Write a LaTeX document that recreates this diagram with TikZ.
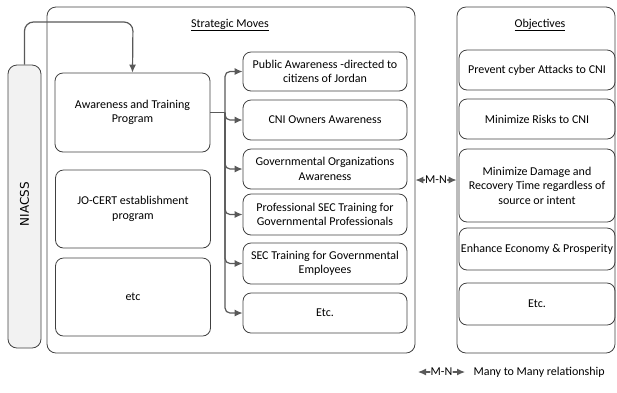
\documentclass[tikz,border=0pt]{standalone}
\usepackage{fontspec}
\setmainfont{Carlito}
\newfontfamily\niafont{DejaVu Sans}
\usetikzlibrary{arrows.meta}

\tikzstyle{frame} = [draw=black!75, rectangle, rounded corners=9pt, line width=0.8pt]
\tikzstyle{block} = [align=center, draw=black!75, rectangle, rounded corners=8pt, line width=0.8pt, inner sep=1pt, font=\fontsize{12}{14.5}\selectfont]
\tikzstyle{link} = [draw=black!65, line width=1.2pt, rounded corners=5pt]

\begin{document}
\begin{tikzpicture}[auto,>={Latex[length=8pt,width=7pt]},x=1pt,y=-1pt]
            \useasboundingbox (0,0) rectangle (617,392);
            %
            % We start by placing the two frames and the NIACSS bar
            \node [frame, minimum width=368pt, minimum height=346pt] (strategic) at (231,180) {};
            \node [frame, minimum width=158pt, minimum height=346pt] (objectives) at (536,180) {};
            \node [frame, fill=black!5, minimum width=33pt, minimum height=283pt] (niacss) at (24.5,206.5) {};
            \node [rotate=90, font=\niafont\fontsize{12}{14}\selectfont] (niacsslabel) at (24.5,204) {NIACSS};
            \node [font=\fontsize{12}{14}\selectfont] (strategictitle) at (230,25) {\underline{Strategic Moves}};
            \node [font=\fontsize{12}{14}\selectfont] (objectivestitle) at (540,25) {\underline{Objectives}};
            %
            % Left column of strategic moves
            \node [block, minimum width=155pt, minimum height=79pt] (awareness) at (132.5,112.5) {Awareness and Training\\Program};
            \node [block, minimum width=155pt, minimum height=78pt] (jocert) at (133,209) {JO-CERT establishment\\program};
            \node [block, minimum width=155pt, minimum height=78pt] (etcmove) at (133,297) {etc};
            %
            % Right column of strategic moves
            \node [block, minimum width=164pt, minimum height=39pt] (public) at (325,71.5) {Public Awareness -directed to\\citizens of Jordan};
            \node [block, minimum width=164pt, minimum height=40pt] (owners) at (325,120) {CNI Owners Awareness};
            \node [block, minimum width=164pt, minimum height=40pt] (govorg) at (325,169) {Governmental Organizations\\Awareness};
            \node [block, minimum width=164pt, minimum height=41pt] (profsec) at (325,214.5) {Professional SEC Training for\\Governmental Professionals};
            \node [block, minimum width=164pt, minimum height=41pt] (empsec) at (325,263.5) {SEC Training for Governmental\\Employees};
            \node [block, minimum width=164pt, minimum height=40pt] (etcaware) at (325,313) {Etc.};
            %
            % Objectives
            \node [block, minimum width=156pt, minimum height=40pt] (prevent) at (537,70) {Prevent cyber Attacks to CNI};
            \node [block, minimum width=156pt, minimum height=40pt] (risks) at (537,119) {Minimize Risks to CNI};
            \node [block, minimum width=156pt, minimum height=73pt] (damage) at (537,185.5) {Minimize Damage and\\Recovery Time regardless of\\source or intent};
            \node [block, minimum width=156pt, minimum height=42pt] (economy) at (537,249) {Enhance Economy \& Prosperity};
            \node [block, minimum width=156pt, minimum height=42pt] (etcobj) at (537,304) {Etc.};
            %
            % Once the nodes are placed, connecting them is easy.
            \coordinate (fork) at (225,112.5);
            \draw [link, ->, rounded corners=9pt] (niacss.north) |- (133,22) -- (awareness.north);
            \draw [link] (awareness.east) -- (fork);
            \foreach \target in {public,owners,govorg,profsec,empsec,etcaware}
              \draw [link, ->] (fork) |- (\target.west);
            \draw [link, <->] (strategic.east) -- node[fill=white, inner sep=0.5pt, font=\fontsize{12}{14}\selectfont, pos=0.5, anchor=center] {M-N} (objectives.west);
            %
            % The key
            \coordinate (keyleft) at (418,372);
            \coordinate (keyright) at (465,372);
            \draw [link, <->] (keyleft) -- node[fill=white, inner sep=0.5pt, font=\fontsize{12}{14}\selectfont, anchor=center] {M-N} (keyright);
            \node [anchor=west, font=\fontsize{12}{14}\selectfont] (keytext) at (470,372) {Many to Many relationship};
            %
        \end{tikzpicture}
\end{document}
